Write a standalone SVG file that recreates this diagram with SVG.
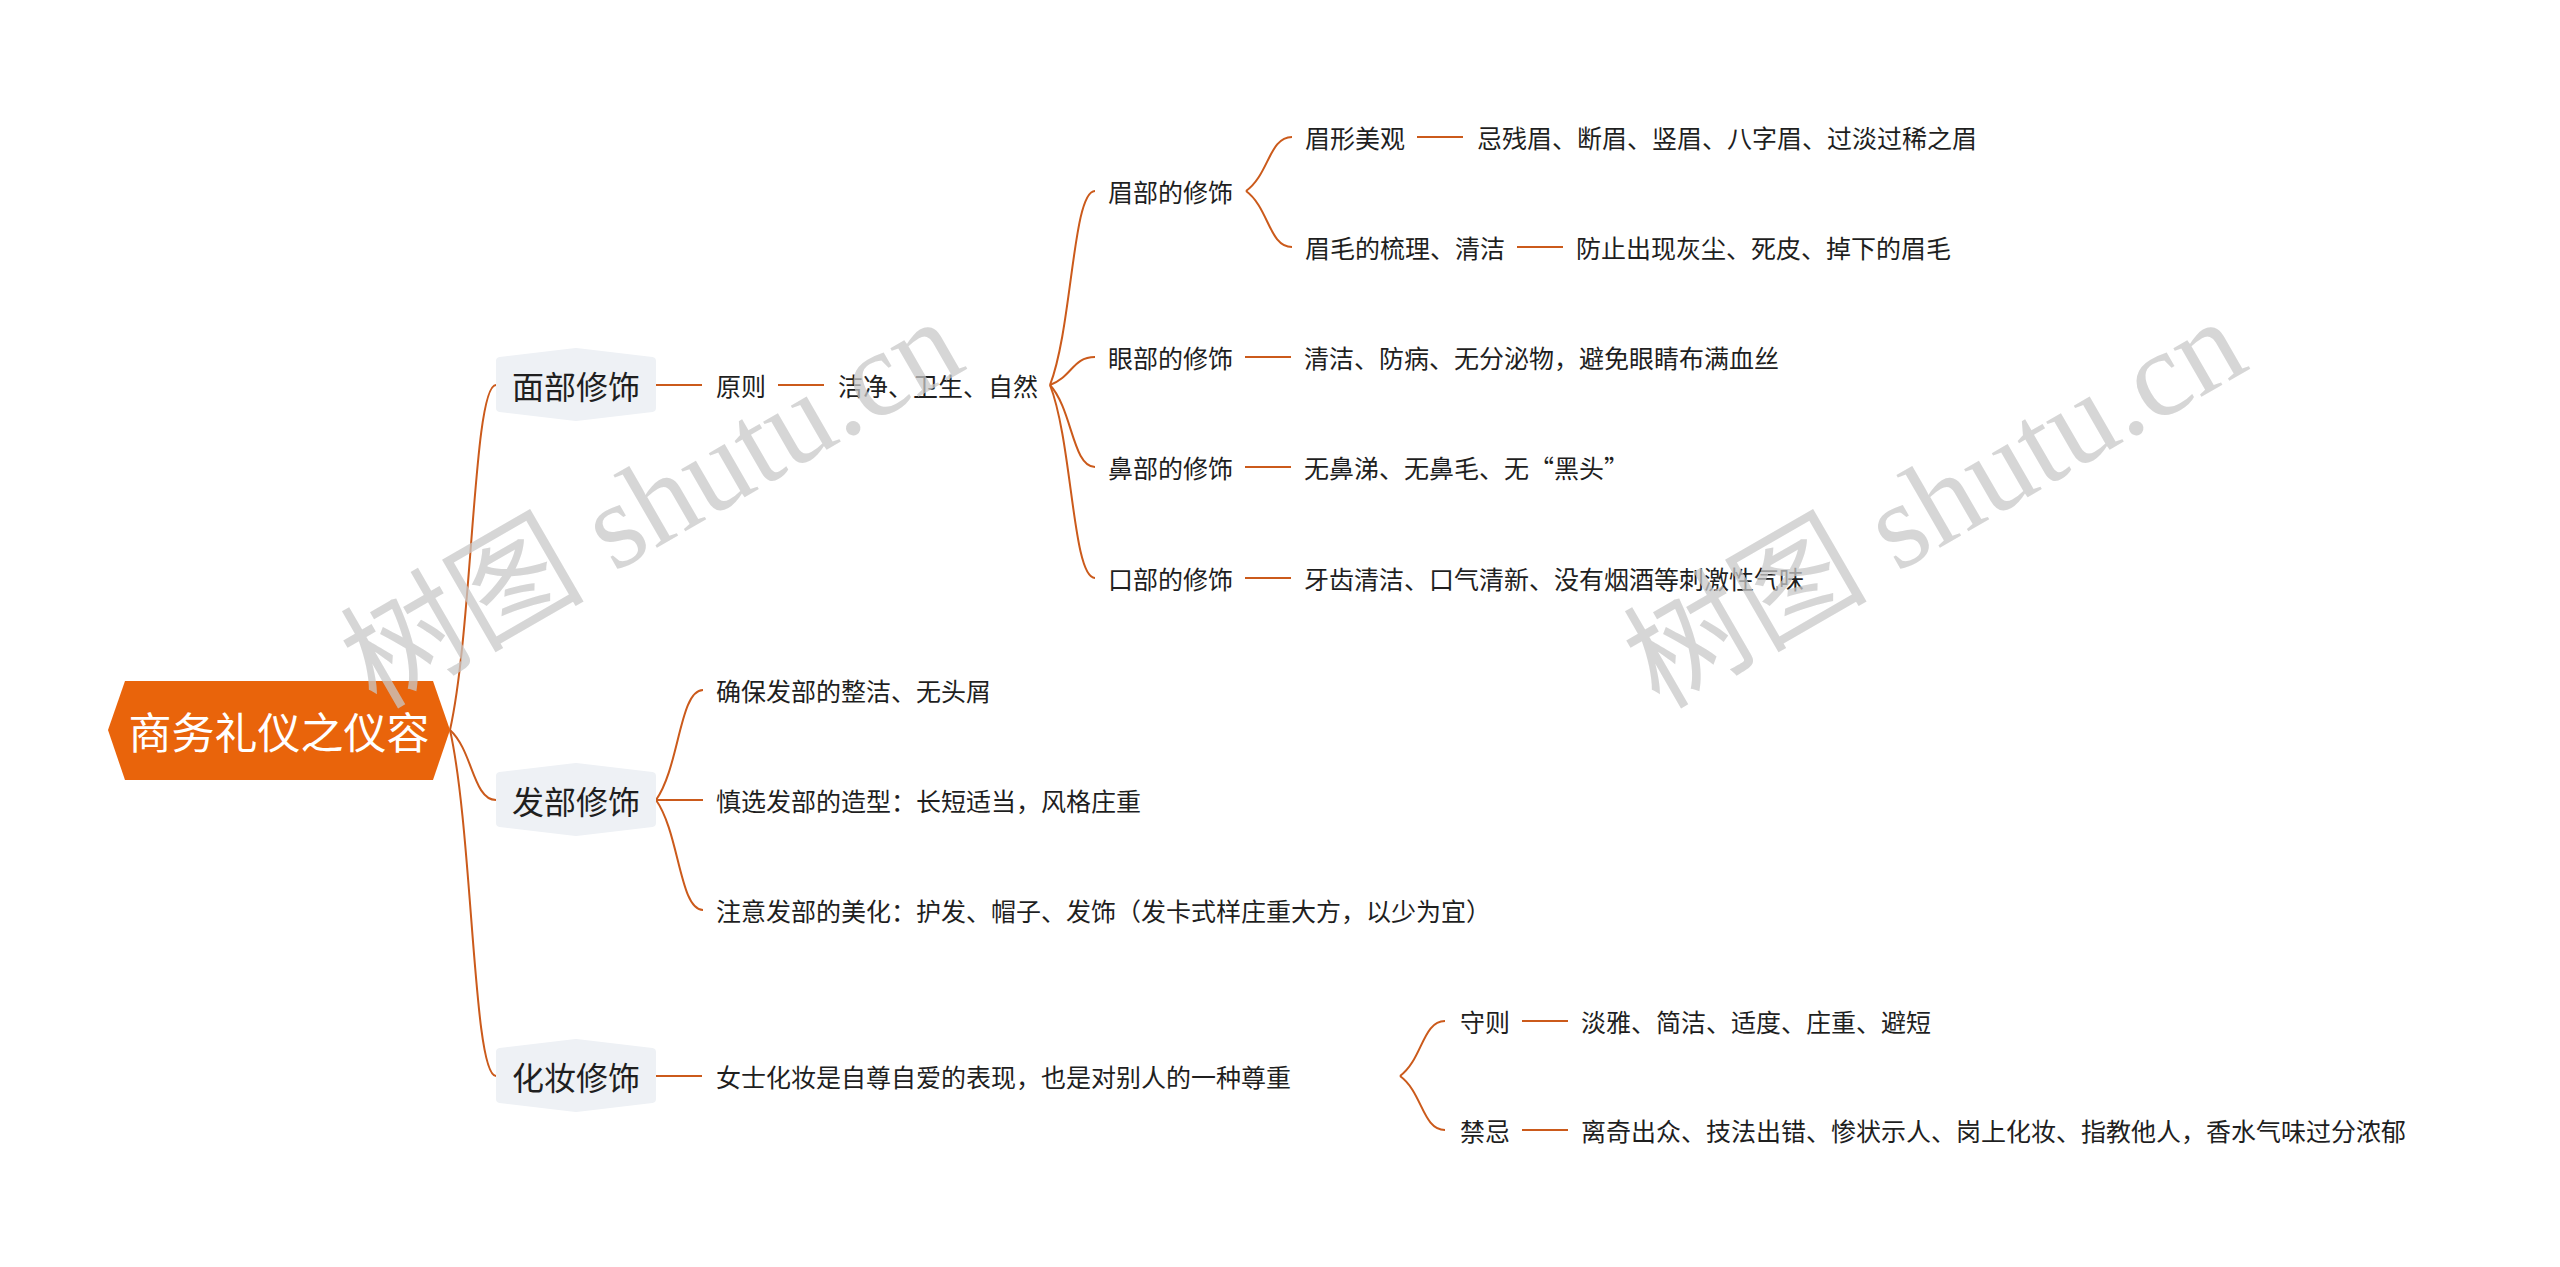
<svg xmlns="http://www.w3.org/2000/svg" width="2560" height="1267" viewBox="0 0 2560 1267">
<style>
.t{font-family:"Noto Sans CJK SC","Liberation Sans",sans-serif;font-size:25px;fill:#1f1f1f;dominant-baseline:central}
.l1t{font-family:"Noto Sans CJK SC","Liberation Sans",sans-serif;font-size:32px;fill:#1f1f1f;dominant-baseline:central;text-anchor:middle}
.rt{font-family:"Noto Sans CJK SC","Liberation Sans",sans-serif;font-size:43px;fill:#ffffff;dominant-baseline:central;text-anchor:middle}
.l1{fill:#EEF1F5;stroke:#EEF1F5;stroke-width:8;stroke-linejoin:round}
.c{fill:none;stroke:#CB5A1B;stroke-width:2}
.wm{font-family:"Liberation Serif","Noto Sans CJK SC",serif;font-size:122px;fill:#c8c8c8;fill-opacity:0.75}
</style>
<rect width="2560" height="1267" fill="#ffffff"/>
<g id="connectors">
<path class="c" d="M450,730 C473,626.5 473,385 496,385"/>
<path class="c" d="M450,730 C473,751 473,800 496,800"/>
<path class="c" d="M450,730 C473,833.8 473,1076 496,1076"/>
<path class="c" d="M656,385 L702,385"/>
<path class="c" d="M778,385 L824,385"/>
<path class="c" d="M1050,385 C1072.5,326.8 1072.5,191 1095,191"/>
<path class="c" d="M1050,385 C1072.5,376.6 1072.5,357 1095,357"/>
<path class="c" d="M1050,385 C1072.5,409.6 1072.5,467 1095,467"/>
<path class="c" d="M1050,385 C1072.5,442.9 1072.5,578 1095,578"/>
<path class="c" d="M1246,191 C1269,174.8 1269,137 1292,137"/>
<path class="c" d="M1246,191 C1269,207.8 1269,247 1292,247"/>
<path class="c" d="M1417,137 L1463,137"/>
<path class="c" d="M1517,247 L1563,247"/>
<path class="c" d="M1245,357 L1291,357"/>
<path class="c" d="M1245,467 L1291,467"/>
<path class="c" d="M1245,578 L1291,578"/>
<path class="c" d="M656,800 C679.5,767 679.5,690 703,690"/>
<path class="c" d="M656,800 L703,800"/>
<path class="c" d="M656,800 C679.5,833 679.5,910 703,910"/>
<path class="c" d="M656,1076 L702,1076"/>
<path class="c" d="M1400,1076 C1422.5,1059.5 1422.5,1021 1445,1021"/>
<path class="c" d="M1400,1076 C1422.5,1092.2 1422.5,1130 1445,1130"/>
<path class="c" d="M1522,1021 L1568,1021"/>
<path class="c" d="M1522,1130 L1568,1130"/>
</g>
<g id="root">
<polygon points="108,730 125,681 433,681 450,730 433,780 125,780" fill="#E9640B"/>
<text class="rt" x="279" y="730">商务礼仪之仪容</text>
</g>
<g id="n-face">
<polygon class="l1" points="500,361 576,352 652,361 652,408 576,417 500,408"/>
<text class="l1t" x="576" y="385">面部修饰</text>
</g>
<g id="n-hair">
<polygon class="l1" points="500,776 576,767 652,776 652,823 576,832 500,823"/>
<text class="l1t" x="576" y="800">发部修饰</text>
</g>
<g id="n-makeup">
<polygon class="l1" points="500,1052 576,1043 652,1052 652,1099 576,1108 500,1099"/>
<text class="l1t" x="576" y="1076">化妆修饰</text>
</g>
<g id="n-principle"><text class="t" x="716" y="385">原则</text></g>
<g id="n-clean"><text class="t" x="838" y="385">洁净、卫生、自然</text></g>
<g id="n-brow"><text class="t" x="1108" y="191">眉部的修饰</text></g>
<g id="n-eye"><text class="t" x="1108" y="357">眼部的修饰</text></g>
<g id="n-nose"><text class="t" x="1108" y="467">鼻部的修饰</text></g>
<g id="n-mouth"><text class="t" x="1108" y="578">口部的修饰</text></g>
<g id="n-brow-shape"><text class="t" x="1305" y="137">眉形美观</text></g>
<g id="n-brow-shape-d"><text class="t" x="1477" y="137">忌残眉、断眉、竖眉、八字眉、过淡过稀之眉</text></g>
<g id="n-brow-comb"><text class="t" x="1305" y="247">眉毛的梳理、清洁</text></g>
<g id="n-brow-comb-d"><text class="t" x="1576" y="247">防止出现灰尘、死皮、掉下的眉毛</text></g>
<g id="n-eye-d"><text class="t" x="1304" y="357">清洁、防病、无分泌物，避免眼睛布满血丝</text></g>
<g id="n-nose-d"><text class="t" x="1304" y="467">无鼻涕、无鼻毛、无“黑头”</text></g>
<g id="n-mouth-d"><text class="t" x="1304" y="578">牙齿清洁、口气清新、没有烟酒等刺激性气味</text></g>
<g id="n-hair-1"><text class="t" x="716" y="690">确保发部的整洁、无头屑</text></g>
<g id="n-hair-2"><text class="t" x="716" y="800">慎选发部的造型：长短适当，风格庄重</text></g>
<g id="n-hair-3"><text class="t" x="716" y="910">注意发部的美化：护发、帽子、发饰（发卡式样庄重大方，以少为宜）</text></g>
<g id="n-makeup-1"><text class="t" x="716" y="1076">女士化妆是自尊自爱的表现，也是对别人的一种尊重</text></g>
<g id="n-rule"><text class="t" x="1460" y="1021">守则</text></g>
<g id="n-rule-d"><text class="t" x="1581" y="1021">淡雅、简洁、适度、庄重、避短</text></g>
<g id="n-taboo"><text class="t" x="1460" y="1130">禁忌</text></g>
<g id="n-taboo-d"><text class="t" x="1581" y="1130">离奇出众、技法出错、惨状示人、岗上化妆、指教他人，香水气味过分浓郁</text></g>
<g id="watermarks">
<text class="wm" transform="translate(376,710) rotate(-30)">树图 shutu.cn</text>
<text class="wm" transform="translate(1659,710) rotate(-30)">树图 shutu.cn</text>
</g>
</svg>
